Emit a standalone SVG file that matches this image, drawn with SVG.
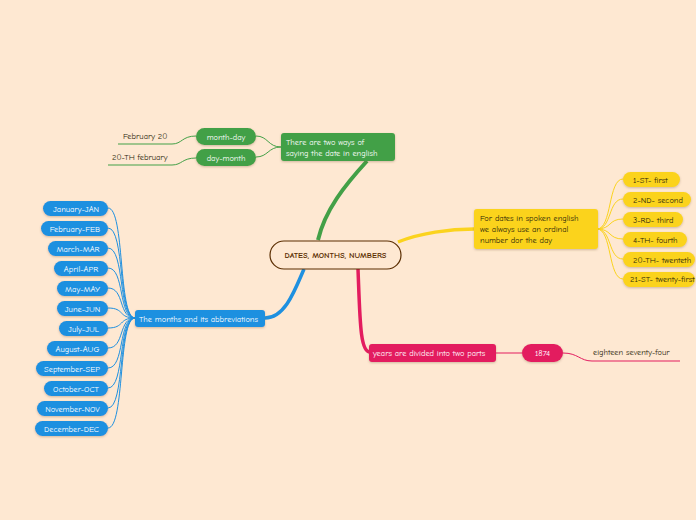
<svg xmlns="http://www.w3.org/2000/svg" width="696" height="520" viewBox="0 0 696 520">
<defs>
<filter id="sh" x="-10%" y="-20%" width="120%" height="150%"><feDropShadow dx="0" dy="1" stdDeviation="0.8" flood-color="#7a5a3a" flood-opacity="0.35"/></filter>
<style>
text{font-family:"Comic Neue","Liberation Sans","DejaVu Sans",sans-serif;font-size:8.4px}
.w{fill:#ffffff}
.d{fill:#2a1f0a}
.g{fill:#43a047}
.b{fill:#1e90e0}
.y{fill:#fbd31e}
.p{fill:#e31c5f}
.cg{fill:none;stroke:#43a047;stroke-width:1}
.cb{fill:none;stroke:#1e90e0;stroke-width:1}
.cy{fill:none;stroke:#fbd31e;stroke-width:1}
.cp{fill:none;stroke:#e31c5f;stroke-width:1}
</style>
</defs>
<rect width="696" height="520" fill="#fee8d2"/>
<g id="connectors">
<path d="M318,240 C325,210 345,185 367,161" fill="none" stroke="#43a047" stroke-width="4"/>
<path d="M304,269 C295,290 285,318 265,318" fill="none" stroke="#1e90e0" stroke-width="3.5"/>
<path d="M398,242 C420,233 450,229 474,229" fill="none" stroke="#fbd31e" stroke-width="3.5"/>
<path d="M358,269 C360,320 360,352 370,352" fill="none" stroke="#e31c5f" stroke-width="3.5"/>
<path class="cg" d="M281,147 C268,147 268,136 256,136"/>
<path class="cg" d="M281,147 C268,147 268,157 256,157"/>
<path class="cg" d="M196,136 C182,136 182,144 172,144 L118,144"/>
<path class="cg" d="M196,158 C182,158 182,165 172,165 L108,165"/>
<path class="cb" d="M135,318 C118,318 125,208 108,208"/>
<path class="cb" d="M135,318 C118,318 125,228 108,228"/>
<path class="cb" d="M135,318 C118,318 125,248 108,248"/>
<path class="cb" d="M135,318 C118,318 125,268 108,268"/>
<path class="cb" d="M135,318 C118,318 125,288 108,288"/>
<path class="cb" d="M135,318 C118,318 125,308 108,308"/>
<path class="cb" d="M135,318 C118,318 125,328 108,328"/>
<path class="cb" d="M135,318 C118,318 125,348 108,348"/>
<path class="cb" d="M135,318 C118,318 125,368 108,368"/>
<path class="cb" d="M135,318 C118,318 125,388 108,388"/>
<path class="cb" d="M135,318 C118,318 125,408 108,408"/>
<path class="cb" d="M135,318 C118,318 125,428 108,428"/>
<path class="cy" d="M597,229 C612,229 608,179 623,179"/>
<path class="cy" d="M597,229 C612,229 608,199 623,199"/>
<path class="cy" d="M597,229 C612,229 608,219 623,219"/>
<path class="cy" d="M597,229 C612,229 608,239 623,239"/>
<path class="cy" d="M597,229 C612,229 608,259 623,259"/>
<path class="cy" d="M597,229 C612,229 608,279 623,279"/>
<path class="cp" d="M496,353 L522,353"/>
<path class="cp" d="M563,353 C578,353 580,361 592,361 L680,361"/>
</g>
<g id="central">
<rect x="270" y="241" width="131" height="28" rx="14" fill="#fee8d2" stroke="#5a2d00" stroke-width="1.2"/>
<text x="335.5" y="258" text-anchor="middle" fill="#5a2d00" font-weight="bold" font-size="8">DATES, MONTHS, NUMBERS</text>
</g>
<g id="ways">
<rect x="281" y="133" width="114" height="28" rx="3" class="g" filter="url(#sh)"/>
<text x="286" y="145" class="w">There are two ways of</text>
<text x="286" y="156" class="w">saying the date in english</text>
</g>
<g id="monthday"><rect x="196" y="128" width="60" height="17" rx="8.5" class="g" filter="url(#sh)"/><text x="226" y="139.5" class="w" text-anchor="middle">month-day</text></g>
<g id="daymonth"><rect x="196" y="149" width="60" height="17" rx="8.5" class="g" filter="url(#sh)"/><text x="226" y="160.5" class="w" text-anchor="middle">day-month</text></g>
<g id="feb20"><text x="123" y="139" class="d">February 20</text></g>
<g id="th20feb"><text x="112" y="160" class="d">20-TH february</text></g>
<g id="months">
<rect x="135" y="310" width="130" height="17" rx="3" class="b" filter="url(#sh)"/>
<text x="139" y="321.5" class="w">The months and its abbreviations</text>
</g>
<g id="jan"><rect x="43" y="201" width="65" height="15" rx="7.5" class="b" filter="url(#sh)"/><text x="76" y="211.5" class="w" text-anchor="middle">January-JAN</text></g>
<g id="feb"><rect x="41" y="221" width="67" height="15" rx="7.5" class="b" filter="url(#sh)"/><text x="75" y="231.5" class="w" text-anchor="middle">February-FEB</text></g>
<g id="mar"><rect x="48" y="241" width="60" height="15" rx="7.5" class="b" filter="url(#sh)"/><text x="78" y="251.5" class="w" text-anchor="middle">March-MAR</text></g>
<g id="apr"><rect x="54" y="261" width="54" height="15" rx="7.5" class="b" filter="url(#sh)"/><text x="81" y="271.5" class="w" text-anchor="middle">April-APR</text></g>
<g id="may"><rect x="57" y="281" width="51" height="15" rx="7.5" class="b" filter="url(#sh)"/><text x="82.5" y="291.5" class="w" text-anchor="middle">May-MAY</text></g>
<g id="jun"><rect x="57" y="301" width="51" height="15" rx="7.5" class="b" filter="url(#sh)"/><text x="82.5" y="311.5" class="w" text-anchor="middle">June-JUN</text></g>
<g id="jul"><rect x="59" y="321" width="49" height="15" rx="7.5" class="b" filter="url(#sh)"/><text x="83.5" y="331.5" class="w" text-anchor="middle">July-JUL</text></g>
<g id="aug"><rect x="47" y="341" width="61" height="15" rx="7.5" class="b" filter="url(#sh)"/><text x="77.5" y="351.5" class="w" text-anchor="middle">August-AUG</text></g>
<g id="sep"><rect x="36" y="361" width="72" height="15" rx="7.5" class="b" filter="url(#sh)"/><text x="72" y="371.5" class="w" text-anchor="middle">September-SEP</text></g>
<g id="oct"><rect x="44" y="381" width="64" height="15" rx="7.5" class="b" filter="url(#sh)"/><text x="76" y="391.5" class="w" text-anchor="middle">October-OCT</text></g>
<g id="nov"><rect x="37" y="401" width="71" height="15" rx="7.5" class="b" filter="url(#sh)"/><text x="72.5" y="411.5" class="w" text-anchor="middle">November-NOV</text></g>
<g id="dec"><rect x="35" y="421" width="73" height="15" rx="7.5" class="b" filter="url(#sh)"/><text x="71.5" y="431.5" class="w" text-anchor="middle">December-DEC</text></g>
<g id="spoken">
<rect x="474" y="209" width="124" height="40" rx="3" class="y" filter="url(#sh)"/>
<text x="480" y="221" class="d">For dates in spoken english</text>
<text x="480" y="232" class="d">we always use an ordinal</text>
<text x="480" y="243" class="d">number dor the day</text>
</g>
<g id="o1"><rect x="623" y="172" width="57" height="15" rx="7.5" class="y" filter="url(#sh)"/><text x="633" y="182.5" class="d">1-ST- first</text></g>
<g id="o2"><rect x="623" y="192" width="68" height="15" rx="7.5" class="y" filter="url(#sh)"/><text x="633" y="202.5" class="d">2-ND- second</text></g>
<g id="o3"><rect x="623" y="212" width="60" height="15" rx="7.5" class="y" filter="url(#sh)"/><text x="633" y="222.5" class="d">3-RD- third</text></g>
<g id="o4"><rect x="623" y="232" width="64" height="15" rx="7.5" class="y" filter="url(#sh)"/><text x="633" y="242.5" class="d">4-TH- fourth</text></g>
<g id="o20"><rect x="623" y="252" width="72" height="15" rx="7.5" class="y" filter="url(#sh)"/><text x="633" y="262.5" class="d">20-TH- twenteth</text></g>
<g id="o21"><rect x="623" y="272" width="72" height="15" rx="7.5" class="y" filter="url(#sh)"/><text x="630" y="282.3" class="d" font-size="7.4">21-ST- twenty-first</text></g>
<g id="years">
<rect x="369" y="344" width="127" height="18" rx="3" class="p" filter="url(#sh)"/>
<text x="373" y="356" class="w">years are divided into two parts</text>
</g>
<g id="y1874"><rect x="522" y="344" width="41" height="18" rx="9" class="p" filter="url(#sh)"/><text x="542.5" y="356" class="w" text-anchor="middle">1874</text></g>
<g id="eighteen"><text x="593" y="355" class="d">eighteen seventy-four</text></g>
</svg>
